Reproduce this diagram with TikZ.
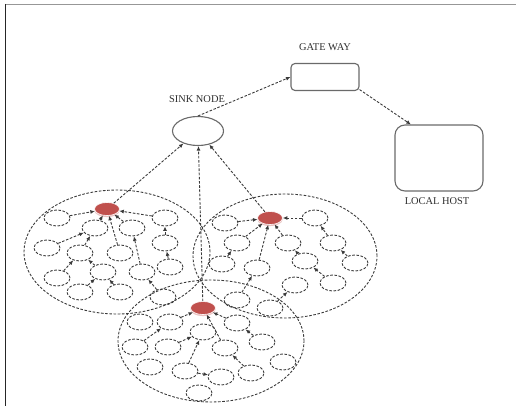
\documentclass[tikz,border=0pt]{standalone}
\usepackage{fontspec}
\setmainfont{Liberation Serif}
\usetikzlibrary{positioning,shapes,arrows.meta,shadows,backgrounds}
\definecolor{sn_red}{HTML}{C0504D}
\definecolor{sn_line}{HTML}{3A3A3A}
\definecolor{sn_frame}{HTML}{6A6A6A}
\definecolor{sn_text}{HTML}{2E2E2E}
\tikzstyle{line} = [draw=sn_line, line width=0.9pt, dash pattern=on 2.6pt off 1.6pt, -{Latex[length=4.5pt,width=4pt]}]
\tikzstyle{sensor} = [ellipse, draw=sn_line, line width=0.9pt, dash pattern=on 2.6pt off 1.6pt, minimum width=26pt, minimum height=16pt, inner sep=0pt]
\tikzstyle{cluster} = [sensor, minimum width=186pt, minimum height=124pt]
\tikzstyle{head} = [ellipse, fill=sn_red, draw=white, line width=0.6pt, minimum width=25pt, minimum height=13pt, inner sep=0pt, drop shadow={shadow xshift=0pt, shadow yshift=-1.6pt, fill=sn_red!35, opacity=1}]
\tikzstyle{device} = [rectangle, draw=sn_frame, line width=1.1pt, fill=white, inner sep=0pt]
\tikzstyle{tag_text} = [text=sn_text, font=\fontsize{10.4}{12}\selectfont]

\begin{document}
\begin{tikzpicture}[x=1pt, y=-1pt]
   \useasboundingbox (0,0) rectangle (516,406);
   \draw [sn_frame!70, line width=1.5pt] (5,4.5) -- (516,4.5);
   \draw [black!85, line width=1.5pt] (5.5,4) -- (5.5,406);

   % Backbone
   \node at (198, 131) [ellipse, draw=sn_frame, line width=1.1pt, minimum width=51pt, minimum height=29pt] (sink) {};
   \node at (197, 99) [tag_text] {SINK NODE};
   \node at (325, 77) [device, rounded corners=4pt, minimum width=68pt, minimum height=27pt] (gateway) {};
   \node at (325, 47) [tag_text] {GATE WAY};
   \node at (439, 158) [device, rounded corners=10pt, minimum width=88pt, minimum height=66pt] (host) {};
   \node at (437, 201) [tag_text] {LOCAL HOST};
   \path [line] (sink.north) -- (gateway.west);
   \path [line] (gateway.-20) -- (host.130);

   % Clusters
   \node at (117, 252) [cluster] (area1) {};
   \node at (285, 256) [cluster, minimum width=184pt] (area2) {};
   \node at (211, 341) [cluster, minimum height=122pt] (area3) {};

   % Cluster 1
   \node at (107, 209) [head] (ch1) {};
   \node at (57, 218) [sensor] (a1) {};
   \node at (95, 228) [sensor] (a2) {};
   \node at (132, 228) [sensor] (a3) {};
   \node at (165, 218) [sensor] (a4) {};
   \node at (47, 248) [sensor] (a5) {};
   \node at (80, 253) [sensor] (a6) {};
   \node at (120, 253) [sensor] (a7) {};
   \node at (165, 243) [sensor] (a8) {};
   \node at (57, 278) [sensor] (a9) {};
   \node at (103, 272) [sensor] (a10) {};
   \node at (142, 272) [sensor] (a11) {};
   \node at (170, 267) [sensor] (a12) {};
   \node at (80, 292) [sensor] (a13) {};
   \node at (120, 292) [sensor] (a14) {};
   \node at (163, 297) [sensor] (a15) {};
   \path [line] (a1) -- (ch1);
   \path [line] (a2) -- (ch1);
   \path [line] (a3) -- (ch1);
   \path [line] (a4) -- (ch1);
   \path [line] (a7) -- (ch1);
   \path [line] (a5) -- (a2);
   \path [line] (a6) -- (a2);
   \path [line] (a8) -- (a4);
   \path [line] (a12) -- (a8);
   \path [line] (a11) -- (a3);
   \path [line] (a9) -- (a6);
   \path [line] (a10) -- (a6);
   \path [line] (a13) -- (a10);
   \path [line] (a14) -- (a10);
   \path [line] (a15) -- (a11);

   % Cluster 2
   \node at (270, 218) [head] (ch2) {};
   \node at (225, 223) [sensor] (b1) {};
   \node at (315, 218) [sensor] (b2) {};
   \node at (237, 243) [sensor] (b3) {};
   \node at (288, 243) [sensor] (b4) {};
   \node at (333, 243) [sensor] (b5) {};
   \node at (222, 264) [sensor] (b6) {};
   \node at (257, 268) [sensor] (b7) {};
   \node at (305, 261) [sensor] (b8) {};
   \node at (355, 263) [sensor] (b9) {};
   \node at (295, 285) [sensor] (b10) {};
   \node at (333, 283) [sensor] (b11) {};
   \node at (237, 300) [sensor] (b12) {};
   \node at (270, 308) [sensor] (b13) {};
   \path [line] (b1) -- (ch2);
   \path [line] (b2) -- (ch2);
   \path [line] (b3) -- (ch2);
   \path [line] (b7) -- (ch2);
   \path [line] (b4) -- (ch2);
   \path [line] (b8) -- (b4);
   \path [line] (b5) -- (b2);
   \path [line] (b9) -- (b5);
   \path [line] (b6) -- (b3);
   \path [line] (b12) -- (b7);
   \path [line] (b11) -- (b8);
   \path [line] (b13) -- (b10);

   % Cluster 3
   \node at (203, 308) [head] (ch3) {};
   \node at (140, 322) [sensor] (c1) {};
   \node at (170, 322) [sensor] (c2) {};
   \node at (237, 323) [sensor] (c3) {};
   \node at (203, 332) [sensor] (c4) {};
   \node at (135, 347) [sensor] (c5) {};
   \node at (168, 347) [sensor] (c6) {};
   \node at (225, 348) [sensor] (c7) {};
   \node at (262, 342) [sensor] (c8) {};
   \node at (283, 362) [sensor] (c9) {};
   \node at (150, 367) [sensor] (c10) {};
   \node at (185, 371) [sensor] (c11) {};
   \node at (221, 377) [sensor] (c12) {};
   \node at (251, 373) [sensor] (c13) {};
   \node at (199, 393) [sensor] (c14) {};
   \path [line] (c2) -- (ch3);
   \path [line] (c3) -- (ch3);
   \path [line] (c7) -- (ch3);
   \path [line] (c5) -- (c2);
   \path [line] (c6) -- (c4);
   \path [line] (c11) -- (c4);
   \path [line] (c11) -- (c12);
   \path [line] (c8) -- (c3);
   \path [line] (c13) -- (c7);

   % Heads to sink
   \path [line] (ch1) -- (sink);
   \path [line] (ch2) -- (sink);
   \path [line] (ch3) -- (sink);
\end{tikzpicture}
\end{document}
